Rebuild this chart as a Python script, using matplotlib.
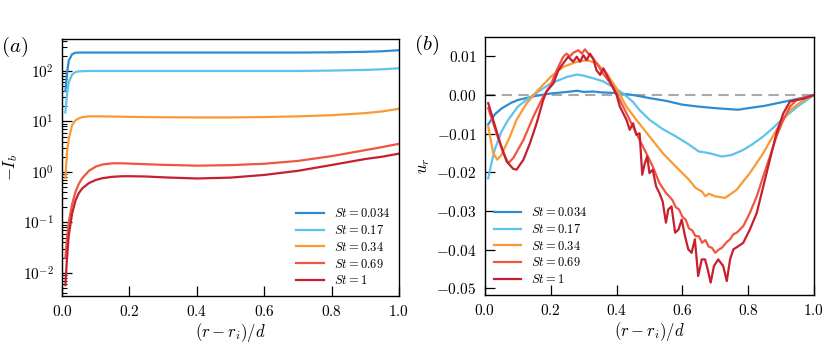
import matplotlib
matplotlib.use("Agg")
import matplotlib.pyplot as plt
from matplotlib.ticker import FuncFormatter, FixedLocator, LogLocator, NullFormatter, NullLocator

plt.rcParams['mathtext.fontset'] = 'cm'
plt.rcParams['font.family'] = ['DejaVu Serif']

labels = [r'$St=0.034$', r'$St=0.17$', r'$St=0.34$', r'$St=0.69$', r'$St=1$']
colors = ['#2f8bd2', '#5ec2ee', '#f89b35', '#f0553f', '#c61f2f']

# ---------------- panel (a): -I_b ----------------
xa = [0.01, 0.015, 0.02, 0.03, 0.04, 0.05, 0.06, 0.08, 0.1, 0.12, 0.15, 0.18,
      0.2, 0.25, 0.3, 0.4, 0.5, 0.6, 0.7, 0.8, 0.9, 0.95, 1.0]
ia_034 = [40, 90, 160, 215, 230, 232, 232, 232, 232, 232, 232, 232,
          232, 232, 232, 232, 232, 232, 232, 234, 240, 246, 258]
ia_17 = [15, 35, 60, 85, 95, 98, 99, 100, 100, 100, 100, 100,
         100, 100, 100, 100, 100, 100, 100, 102, 105, 108, 113]
ia_34 = [0.76, 2.5, 4.5, 8.5, 10.5, 11.5, 12.2, 12.6, 12.6, 12.6, 12.5, 12.4,
         12.3, 12.2, 12.1, 12.0, 12.0, 12.2, 12.6, 13.3, 14.6, 15.8, 17.8]
ia_69 = [0.02, 0.05, 0.1, 0.23, 0.4, 0.58, 0.75, 1.05, 1.27, 1.4, 1.48, 1.48,
         1.46, 1.42, 1.38, 1.33, 1.36, 1.45, 1.65, 2.05, 2.7, 3.1, 3.6]
ia_1 = [0.0057, 0.02, 0.055, 0.15, 0.27, 0.38, 0.47, 0.6, 0.69, 0.75, 0.8, 0.82,
        0.82, 0.81, 0.78, 0.74, 0.77, 0.87, 1.05, 1.37, 1.8, 2.0, 2.3]
series_a = [ia_034, ia_17, ia_34, ia_69, ia_1]

# ---------------- panel (b): u_r ----------------
xb_034 = [0.01, 0.03, 0.05, 0.08, 0.1, 0.15, 0.2, 0.25, 0.28, 0.3, 0.33, 0.35, 0.4,
          0.45, 0.5, 0.55, 0.6, 0.65, 0.7, 0.75, 0.77, 0.8, 0.85, 0.9, 0.95, 1.0]
ub_034 = [-0.0076, -0.005, -0.0035, -0.002, -0.0013, -0.0003, 0.0004, 0.0008, 0.0011,
          0.0008, 0.0009, 0.0007, 0.0005, 0.0, -0.0008, -0.0015, -0.0025, -0.003,
          -0.0034, -0.0037, -0.0038, -0.0034, -0.0028, -0.0019, -0.001, 0.0]

xb_17 = [0.01, 0.02, 0.03, 0.05, 0.07, 0.1, 0.13, 0.15, 0.2, 0.25, 0.28, 0.3, 0.33,
         0.36, 0.4, 0.42, 0.45, 0.47, 0.5, 0.54, 0.58, 0.62, 0.65, 0.68, 0.72, 0.75,
         0.785, 0.815, 0.846, 0.877, 0.907, 0.95, 1.0]
ub_17 = [-0.0215, -0.0175, -0.014, -0.0095, -0.0065, -0.003, -0.001, 0.0002, 0.003,
         0.0047, 0.0053, 0.005, 0.0043, 0.0035, 0.0015, 0.0004, -0.0018, -0.0039,
         -0.0064, -0.0088, -0.0107, -0.0128, -0.0146, -0.0150, -0.0159, -0.0155,
         -0.0142, -0.0126, -0.0107, -0.0084, -0.0060, -0.003, 0.0]

xb_34 = [0.01, 0.025, 0.037, 0.05, 0.076, 0.096, 0.127, 0.157, 0.2, 0.238, 0.28,
         0.31, 0.34, 0.37, 0.4, 0.43, 0.46, 0.5, 0.54, 0.58, 0.62, 0.64, 0.66, 0.67,
         0.68, 0.70, 0.73, 0.765, 0.805, 0.846, 0.886, 0.927, 0.968, 1.0]
ub_34 = [-0.0082, -0.015, -0.0167, -0.0155, -0.0107, -0.0064, -0.0021, 0.0009, 0.0047,
         0.0073, 0.0086, 0.009, 0.0082, 0.0056, 0.0017, -0.003, -0.0064, -0.0107,
         -0.015, -0.0185, -0.0219, -0.0240, -0.0250, -0.0262, -0.0255, -0.0262,
         -0.0266, -0.0245, -0.0202, -0.015, -0.009, -0.0039, -0.0013, 0.0]

xb_69 = [0.01, 0.035, 0.056, 0.071, 0.086, 0.117, 0.147, 0.177, 0.2, 0.218, 0.238,
         0.248, 0.258, 0.268, 0.284, 0.294, 0.304, 0.314, 0.324, 0.34, 0.355, 0.37,
         0.39, 0.41, 0.43, 0.45, 0.47, 0.49, 0.51, 0.53, 0.55, 0.56, 0.57, 0.58,
         0.59, 0.60, 0.61, 0.62, 0.63, 0.64, 0.65, 0.66, 0.67, 0.68, 0.69, 0.70,
         0.71, 0.72, 0.735, 0.745, 0.755, 0.765, 0.785, 0.805, 0.826, 0.846, 0.866,
         0.886, 0.907, 0.927, 0.947, 0.97, 1.0]
ub_69 = [-0.0034, -0.0099, -0.015, -0.0176, -0.0163, -0.0116, -0.0056, -0.0004,
         0.0026, 0.0064, 0.0099, 0.0107, 0.0100, 0.0109, 0.0116, 0.0107, 0.0118,
         0.0107, 0.0099, 0.0082, 0.0060, 0.0043, 0.0021, -0.0013, -0.0047, -0.0082,
         -0.0116, -0.0150, -0.0185, -0.0227, -0.0253, -0.0262, -0.0272, -0.0290,
         -0.0296, -0.0315, -0.0322, -0.0345, -0.0350, -0.0365, -0.0365, -0.0382,
         -0.0375, -0.0392, -0.0395, -0.0408, -0.0400, -0.0395, -0.0380, -0.0373,
         -0.0360, -0.0356, -0.0339, -0.0305, -0.0262, -0.0210, -0.0159, -0.0107,
         -0.0064, -0.0030, -0.0013, -0.0007, 0.0]

xb_1 = [0.01, 0.025, 0.046, 0.066, 0.086, 0.096, 0.117, 0.137, 0.157, 0.177, 0.187,
        0.208, 0.223, 0.238, 0.253, 0.268, 0.279, 0.289, 0.299, 0.309, 0.319, 0.329,
        0.339, 0.35, 0.36, 0.37, 0.38, 0.39, 0.40, 0.41, 0.42, 0.43, 0.44, 0.45, 0.46,
        0.47, 0.478, 0.486, 0.493, 0.50, 0.51, 0.52, 0.53, 0.54, 0.55, 0.557, 0.567,
        0.578, 0.588, 0.598, 0.608, 0.618, 0.628, 0.638, 0.648, 0.659, 0.669, 0.677,
        0.686, 0.696, 0.709, 0.724, 0.735, 0.745, 0.755, 0.77, 0.785, 0.805, 0.826,
        0.846, 0.866, 0.886, 0.907, 0.927, 0.947, 0.97, 0.99, 1.0]
ub_1 = [-0.0021, -0.0064, -0.0124, -0.0172, -0.0191, -0.0193, -0.0167, -0.0124,
        -0.0073, -0.0013, 0.0009, 0.0030, 0.0064, 0.0082, 0.0099, 0.0086, 0.0099,
        0.0086, 0.0103, 0.0090, 0.0107, 0.0094, 0.0064, 0.0052, 0.0069, 0.0052,
        0.0034, 0.0017, 0.0, -0.0030, -0.0047, -0.0064, -0.0090, -0.0073, -0.0103,
        -0.0099, -0.0206, -0.0176, -0.0159, -0.0202, -0.0193, -0.0236, -0.0253,
        -0.0275, -0.0330, -0.0296, -0.0288, -0.0356, -0.0348, -0.0322, -0.0365,
        -0.0399, -0.0408, -0.0373, -0.0468, -0.0425, -0.0425, -0.0451, -0.0485,
        -0.0442, -0.0425, -0.0442, -0.0481, -0.0425, -0.0399, -0.0391, -0.0382,
        -0.0348, -0.0305, -0.0236, -0.0167, -0.0099, -0.0047, -0.0017, -0.0013,
        -0.0009, -0.0003, 0.0]

series_b = [(xb_034, ub_034), (xb_17, ub_17), (xb_34, ub_34), (xb_69, ub_69), (xb_1, ub_1)]

xticks = [0.0, 0.2, 0.4, 0.6, 0.8, 1.0]
yticks_a = [1e-2, 1e-1, 1e0, 1e1, 1e2]
yticks_b = [0.01, 0.0, -0.01, -0.02, -0.03, -0.04, -0.05]

fig = plt.figure(figsize=(8.3, 3.46), dpi=100)
axa = fig.add_axes([0.0747, 0.1445, 0.406, 0.7428])
axb = fig.add_axes([0.5843, 0.1474, 0.3964, 0.7457])

lw = 1.6
for ys, c, lab in zip(series_a, colors, labels):
    axa.plot(xa, ys, color=c, lw=lw, label=lab)
axa.set_yscale('log')
axa.set_xlim(0, 1)
axa.set_ylim(10**-2.46, 10**2.634)

axb.axhline(0.0, color='#aaaaaa', lw=1.5, ls=(0, (5, 3)), zorder=0)
for (xs, ys), c, lab in zip(series_b, colors, labels):
    axb.plot(xs, ys, color=c, lw=lw, label=lab)
axb.set_xlim(0, 1)
axb.set_ylim(-0.0517, 0.015)

def xfmt(v, p):
    return r'$%.1f$' % v

def bfmt(v, p):
    return r'$%.2f$' % v if abs(v) > 1e-9 else r'$0.00$'

def afmt(v, p):
    import math
    e = int(round(math.log10(v)))
    return r'$10^{%d}$' % e

for ax in (axa, axb):
    ax.xaxis.set_major_locator(FixedLocator(xticks))
    ax.xaxis.set_major_formatter(FuncFormatter(xfmt))
    ax.tick_params(which='major', direction='in', length=7.5, width=0.9,
                   labelsize=11, top=False, right=False, pad=6)
    ax.tick_params(which='minor', direction='in', length=3.6, width=0.8,
                   top=False, right=False)
    for s in ax.spines.values():
        s.set_linewidth(1.0)
    ax.set_xlabel(r'$(r-r_i)/d$', fontsize=12, labelpad=1)
    ax.xaxis.set_minor_locator(NullLocator())

axa.yaxis.set_major_locator(FixedLocator(yticks_a))
axa.yaxis.set_major_formatter(FuncFormatter(afmt))
axa.yaxis.set_minor_locator(LogLocator(base=10, subs=range(2, 10), numticks=20))
axa.yaxis.set_minor_formatter(NullFormatter())
axa.set_ylabel(r'$-I_b$', fontsize=12)
axa.yaxis.set_label_coords(-0.125, 0.5)

axb.yaxis.set_major_locator(FixedLocator(yticks_b))
axb.yaxis.set_major_formatter(FuncFormatter(bfmt))
axb.yaxis.set_minor_locator(NullLocator())
axb.set_ylabel(r'$u_r$', fontsize=12)
axb.yaxis.set_label_coords(-0.161, 0.5)

axa.legend(loc='lower right', frameon=False, fontsize=9, handlelength=2.2,
           labelspacing=0.3, borderaxespad=0.3)
axb.legend(loc='lower left', frameon=False, fontsize=9, handlelength=2.2,
           labelspacing=0.3, borderaxespad=0.3)

fig.text(0.001, 0.864, r'$(a)$', fontsize=15, va='center', ha='left')
fig.text(0.499, 0.870, r'$(b)$', fontsize=15, va='center', ha='left')

fig.savefig('out.png', dpi=100)
